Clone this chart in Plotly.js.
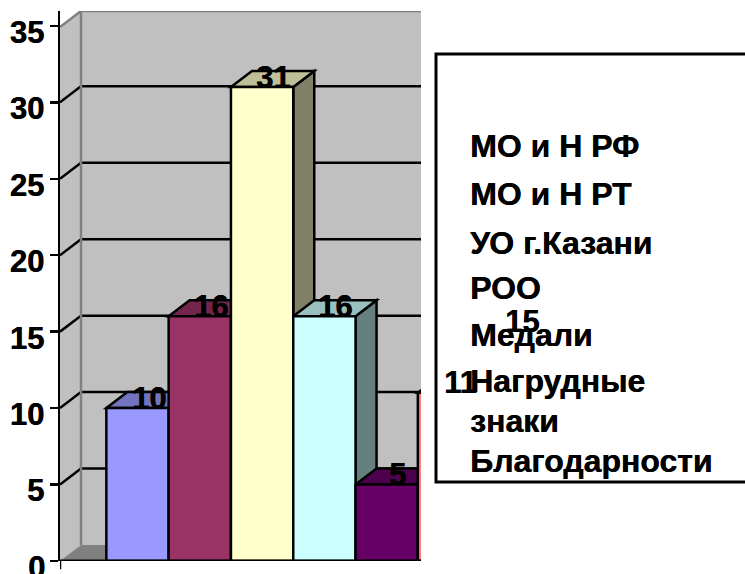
<!DOCTYPE html>
<html><head><meta charset="utf-8">
<script src="https://cdn.plot.ly/plotly-3.0.1.min.js"></script>
<style>html,body{margin:0;padding:0;background:#fff;overflow:hidden}</style>
</head><body><div id="chart" style="width:745px;height:574px"></div>
<script>
const categories = ['МО и Н РФ','МО и Н РТ','УО г.Казани','РОО','Медали','Нагрудные знаки','Благодарности'];
const values = [10,16,31,16,5,11,15];
const colors = ['#9999FF','#993366','#FFFFCC','#CCFFFF','#660066','#FF8080','#0066CC'];
const legendLines = ['МО и Н РФ','МО и Н РТ','УО г.Казани','РОО','Медали','Нагрудные','знаки','Благодарности'];
const legendY = [146,194,243,288,335,381,421,461];
const yTicks = [0,5,10,15,20,25,30,35];

const W=745,H=574,L=60,BASE=561,TOP=11,SLOT=62.3,UNIT=15.29,C0=137.5;
const xMin=(L-C0)/SLOT, xMax=(W-C0)/SLOT, yMax=(BASE-TOP)/UNIT;
const dx=21/SLOT, dy=16/UNIT;
const xClip=(421-C0)/SLOT;
const font={family:'"Liberation Sans",Arial,sans-serif',size:31,color:'#000',weight:700,shadow:'0.4px 0 0 #000'};
function shade(h,f){const n=parseInt(h.slice(1),16);
  return 'rgb('+[(n>>16)&255,(n>>8)&255,n&255].map(c=>Math.round(c*f)).join(',')+')';}
function poly(pts,fill,line,lw,layer){return {type:'path',xref:'x',yref:'y',layer:layer||'below',
  path:'M'+pts.map(p=>p[0]+','+p[1]).join('L')+'Z',fillcolor:fill,line:{color:line,width:lw}};}
function seg(x0,y0,x1,y1,color,w,layer){return {type:'line',xref:'x',yref:'y',layer:layer||'below',x0,y0,x1,y1,line:{color,width:w}};}

const shapes=[];
// walls and floor
shapes.push(poly([[xMin,0],[xMin+dx,dy],[xMin+dx,yMax],[xMin,yMax-dy]],'#C0C0C0','#C0C0C0',0));
shapes.push(poly([[xMin+dx,dy],[xClip,dy],[xClip,yMax],[xMin+dx,yMax]],'#C0C0C0','#C0C0C0',0));
shapes.push(poly([[xMin,0],[xMin+dx,dy],[xClip,dy],[xClip,0]],'#808080','#808080',0));
shapes.push(seg(xMin,0,xMin+dx,dy,'#A0A0A0',1));
yTicks.filter(v=>v>0&&v<35).forEach(v=>{
  shapes.push(seg(xMin,v,xMin+dx,v+dy,'#000',2.5));
  shapes.push(seg(xMin+dx,v+dy,xClip,v+dy,'#000',2.5));
});
shapes.push(seg(xMin+dx,dy,xMin+dx,yMax,'#808080',2.5));
shapes.push(seg(xMin+dx,yMax,xClip,yMax,'#808080',2.5));
shapes.push(seg(xMin,yMax-dy,xMin+dx,yMax,'#808080',2.5));
// bar depth faces, left to right
values.forEach((v,i)=>{
  const a=i-0.5,b=i+0.5;
  shapes.push(poly([[b,0],[b+dx,dy],[b+dx,v+dy],[b,v]],shade(colors[i],0.5),'#000',2.5));
  shapes.push(poly([[a,v],[b,v],[b+dx,v+dy],[a+dx,v+dy]],shade(colors[i],0.75),'#000',2.5));
});
// everything right of the plot is cut off
shapes.push({type:'rect',xref:'x',yref:'paper',layer:'above',x0:xClip,x1:xMax+1,y0:-0.1,y1:1.1,fillcolor:'#fff',line:{width:0}});
shapes.push(seg(xMin,0,xClip,0,'#000',3,'above'));
shapes.push({type:'line',xref:'x',yref:'paper',layer:'above',x0:xMin,x1:xMin,y0:0,y1:-0.015,line:{color:'#000',width:2.5}});
// legend box
const px=x=>(x-L)/(W-L), py=y=>(H-13-y)/(BASE-TOP);
shapes.push({type:'rect',xref:'paper',yref:'paper',layer:'above',x0:px(436),x1:px(760),y0:py(482),y1:py(54),fillcolor:'#fff',line:{color:'#000',width:3}});

const annotations=[];
legendLines.forEach((t,i)=>annotations.push({xref:'paper',yref:'paper',x:px(468),y:py(legendY[i]),text:t,showarrow:false,xanchor:'left',yanchor:'middle',align:'left',font:{...font,size:32}}));
values.forEach((v,i)=>annotations.push({xref:'x',yref:'y',x:i,y:v,text:String(v),showarrow:false,xshift:11,yshift:10,xanchor:'center',yanchor:'middle',font}));
// the 0 tick label runs off the bottom of the page, where the axis would drop it
annotations.push({xref:'x',yref:'y',x:xMin,y:0,text:'0',showarrow:false,xanchor:'right',yanchor:'middle',xshift:-13,yshift:-6,font});

const trace={type:'bar',x:values.map((_,i)=>i),y:values,width:1,text:categories,hoverinfo:'skip',textposition:'none',
  marker:{color:colors,line:{color:'#000',width:2.5}},showlegend:false};
const layout={width:W,height:H,margin:{l:L,r:0,t:TOP,b:H-BASE,pad:0},paper_bgcolor:'#fff',plot_bgcolor:'#fff',showlegend:false,bargap:0,
  xaxis:{range:[xMin,xMax],visible:false,fixedrange:true},
  yaxis:{range:[0,yMax],tickvals:yTicks,ticktext:yTicks.map(v=>v?String(v):''),ticks:'outside',ticklen:8,tickwidth:2.5,tickcolor:'#000',
    showline:true,linecolor:'#000',linewidth:2.5,showgrid:false,zeroline:false,fixedrange:true,tickfont:font,ticklabelshift:6,ticklabelstandoff:-1},
  shapes,annotations};
Plotly.newPlot('chart',[trace],layout,{displayModeBar:false,staticPlot:true});
</script></body></html>
